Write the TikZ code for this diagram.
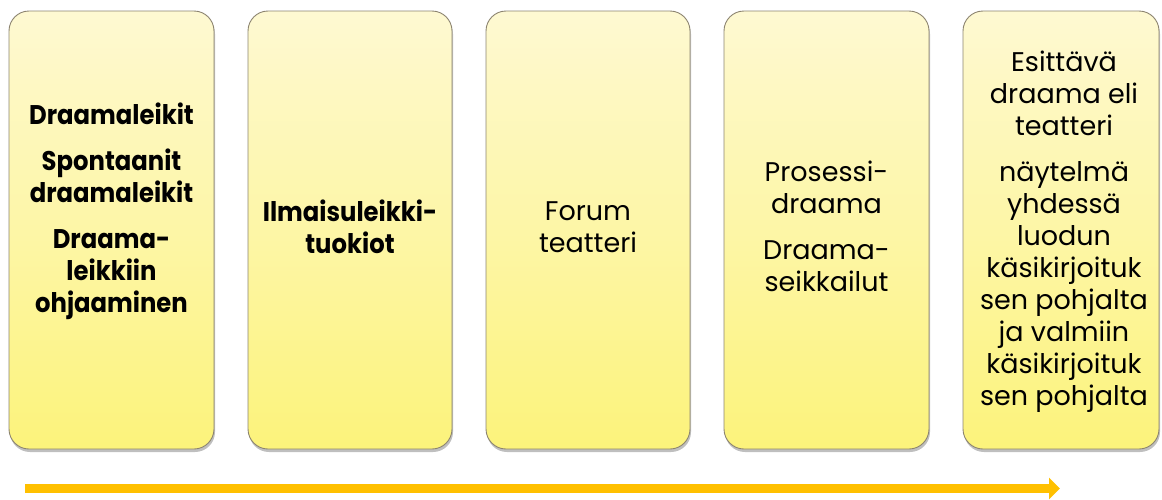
\documentclass[tikz,border=0pt]{standalone}
\usepackage{fontspec}
\setmainfont{Poppins}[BoldFeatures={FakeStretch=0.9}]
\usetikzlibrary{arrows.meta,shadows}
\definecolor{boxtop}{HTML}{FEF9D2}
\definecolor{boxbot}{HTML}{FCF37B}
\definecolor{boxline}{HTML}{8C8470}
\definecolor{arrowc}{HTML}{FFC000}
\tikzset{
  stagebox/.style={draw=boxline, line width=0.9pt, rounded corners=20pt,
    top color=boxtop, bottom color=boxbot,
    drop shadow={shadow xshift=1pt, shadow yshift=-3pt, opacity=0.25, fill=black}},
  stagetext/.style={anchor=north, align=center, inner sep=0pt,
    font=\fontsize{27}{32}\selectfont},
  boldtext/.style={stagetext, font=\fontsize{27}{32}\selectfont\bfseries},
}
\begin{document}
\begin{tikzpicture}[x=1pt,y=-1pt]
\useasboundingbox (0,0) rectangle (1162,499);
\path[stagebox] (9,11) rectangle (214,449) coordinate (b1);
\path[stagebox] (248,11) rectangle (452,449) coordinate (b2);
\path[stagebox] (486,11) rectangle (690,449) coordinate (b3);
\path[stagebox] (724,11) rectangle (929,449) coordinate (b4);
\path[stagebox] (963,11) rectangle (1159,449) coordinate (b5);
\node[boldtext] (t1) at (111.5,103) {Draamaleikit\\[14pt]Spontaanit\\draamaleikit\\[14pt]Draama-\\leikkiin\\ohjaaminen};
\node[boldtext] (t2) at (350,200) {Ilmaisuleikki-\\tuokiot};
\node[stagetext] (t3) at (588,201) {Forum\\teatteri};
\node[stagetext] (t4) at (826.5,161) {Prosessi-\\draama\\[14pt]Draama-\\seikkailut};
\node[stagetext] (t5) at (1064,51) {Esittävä\\draama eli\\teatteri\\[14pt]näytelmä\\yhdessä\\luodun\\käsikirjoituk\\sen pohjalta\\ja valmiin\\käsikirjoituk\\sen pohjalta};
\coordinate (a0) at (25,488.5);
\coordinate (a1) at (1060,488.5);
\draw[arrowc, line width=9pt, -{Triangle[length=11pt,width=21pt]}] (a0) -- (a1);
\end{tikzpicture}
\end{document}
